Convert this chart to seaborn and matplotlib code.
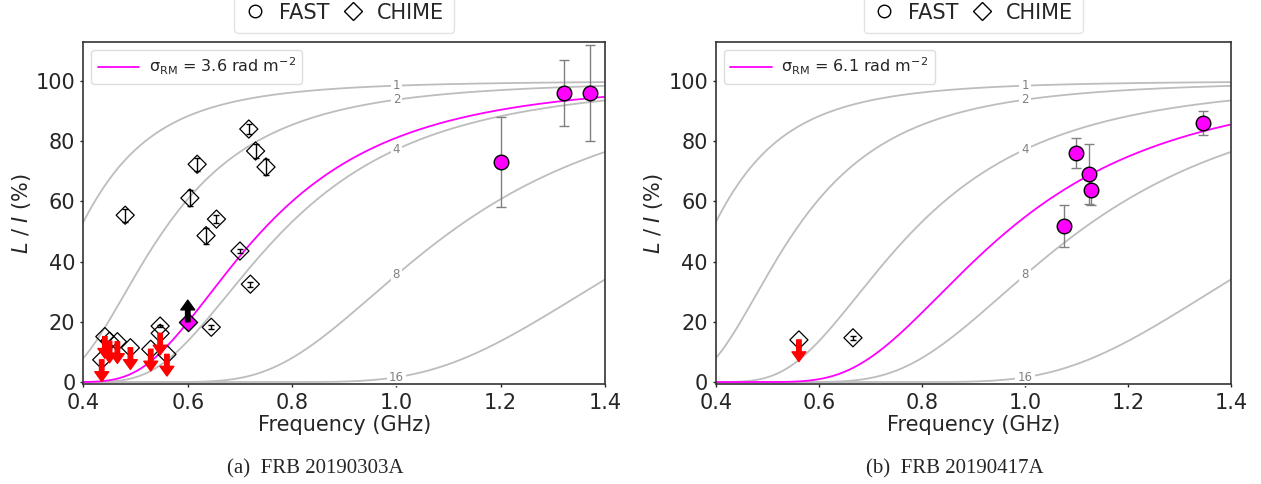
import numpy as np
import pandas as pd
import matplotlib
matplotlib.use("Agg")
import matplotlib.pyplot as plt
from matplotlib.lines import Line2D
import seaborn as sns

# model curves: sigma_RM values (rad m^-2)
sigma_grid = [1, 2, 4, 8, 16]
sigma_fit_a = 3.6
sigma_fit_b = 6.1

# FRB 20190303A, CHIME detections
chime_a_freq = [0.480, 0.547, 0.604, 0.618, 0.635, 0.655, 0.645, 0.700, 0.717, 0.730, 0.750, 0.720]
chime_a_lin = [55.4, 18.6, 61.1, 72.3, 48.6, 54.1, 18.2, 43.5, 84.0, 76.7, 71.4, 32.5]
chime_a_err = [2.2, 0.4, 2.8, 2.2, 2.6, 1.2, 0.6, 0.7, 1.7, 2.3, 2.7, 0.8]
# CHIME upper limits
chime_a_ul_freq = [0.435, 0.441, 0.450, 0.465, 0.490, 0.529, 0.547, 0.560]
chime_a_ul_lin = [7.4, 15.1, 13.6, 13.4, 11.4, 10.9, 16.2, 9.2]
# lower limit
chime_a_ll_freq = [0.600]
chime_a_ll_lin = [20.0]
# FAST
fast_a_freq = [1.200, 1.321, 1.371]
fast_a_lin = [73.0, 96.0, 96.0]
fast_a_err = [15.0, 11.0, 16.0]

# FRB 20190417A
chime_b_freq = [0.666]
chime_b_lin = [14.7]
chime_b_err = [0.6]
chime_b_ul_freq = [0.561]
chime_b_ul_lin = [14.0]
fast_b_freq = [1.076, 1.100, 1.125, 1.128, 1.346]
fast_b_lin = [51.9, 75.9, 69.0, 63.9, 85.9]
fast_b_err = [7.0, 5.0, 10.0, 5.0, 4.0]

titles = ["(a)  FRB 20190303A", "(b)  FRB 20190417A"]

sns.set_style("ticks")
plt.rcParams["font.family"] = ["DejaVu Sans"]
plt.rcParams["mathtext.fontset"] = "dejavusans"

C = 0.299792458  # m GHz


def depol(freq, sig):
    lam = C / freq
    return 100 * np.exp(-2 * sig**2 * lam**4)


def drawPanel(ax, sig_fit, ch_f, ch_l, ch_e, ul_f, ul_l, ll_f, ll_l, fa_f, fa_l, fa_e):
    freq = np.linspace(0.4, 1.4, 600)
    curves = pd.DataFrame({
        "freq": np.tile(freq, len(sigma_grid)),
        "lin": np.concatenate([depol(freq, s) for s in sigma_grid]),
        "sigma": np.repeat(sigma_grid, len(freq)),
    })
    sns.lineplot(data=curves, x="freq", y="lin", units="sigma", estimator=None,
                 color="#bdbdbd", lw=1.3, ax=ax, zorder=1)
    sns.lineplot(x=freq, y=depol(freq, sig_fit), color="magenta", lw=1.3, ax=ax,
                 label=r"σ$_{\rm RM}$ = %.1f rad m$^{-2}$" % sig_fit, zorder=2)

    # FAST points
    ax.errorbar(fa_f, fa_l, yerr=fa_e, fmt="none", ecolor="grey", elinewidth=1,
                capsize=3.5, zorder=3)
    sns.scatterplot(x=fa_f, y=fa_l, marker="o", s=110, color="magenta",
                    edgecolor="black", linewidth=1, ax=ax, zorder=5)

    # CHIME points
    ax.errorbar(ch_f, ch_l, yerr=ch_e, fmt="none", ecolor="black", elinewidth=1,
                capsize=2.5, zorder=3)
    sns.scatterplot(x=ch_f + ul_f, y=ch_l + ul_l, marker="D", s=85, facecolor="none",
                    edgecolor="black", linewidth=0.9, ax=ax, zorder=4)
    for f, l in zip(ul_f, ul_l):
        ax.annotate("", xy=(f, l - 7.2), xytext=(f, l),
                    arrowprops=dict(facecolor="red", edgecolor="red", width=3.2,
                                    headwidth=10, headlength=7, shrink=0), zorder=6)
    if ll_f:
        sns.scatterplot(x=ll_f, y=ll_l, marker="D", s=85, color="magenta",
                        edgecolor="black", linewidth=1, ax=ax, zorder=5)
        for f, l in zip(ll_f, ll_l):
            ax.annotate("", xy=(f, l + 7.2), xytext=(f, l),
                        arrowprops=dict(facecolor="black", edgecolor="black", width=3.2,
                                        headwidth=10, headlength=7, shrink=0), zorder=6)

    # inline labels of the grid curves
    for s in sigma_grid:
        ax.text(1.0, depol(1.0, s), str(s), fontsize=8.5, color="grey", ha="center",
                va="center", zorder=2.5,
                bbox=dict(facecolor="white", edgecolor="none", pad=1.5))

    ax.set_xlim(0.4, 1.4)
    ax.set_ylim(-0.8, 113)
    ax.set_xticks([0.4, 0.6, 0.8, 1.0, 1.2, 1.4])
    ax.set_yticks([0, 20, 40, 60, 80, 100])
    ax.tick_params(labelsize=15, length=2.3, width=1)
    ax.set_xlabel("Frequency (GHz)", fontsize=15, labelpad=2)
    ax.set_ylabel(r"$L$ / $I$ (%)", fontsize=15, labelpad=2)
    for sp in ax.spines.values():
        sp.set_color("#333333")
        sp.set_linewidth(1.2)

    leg = ax.legend(loc="upper left", fontsize=11.5, handlelength=2.6,
                    handletextpad=0.6, borderaxespad=0.5, framealpha=1)
    leg.get_frame().set_edgecolor("#dddddd")
    ax.add_artist(leg)

    handles = [
        Line2D([], [], ls="none", marker="o", ms=9, mfc="none", mec="black", label="FAST"),
        Line2D([], [], ls="none", marker="D", ms=9, mfc="none", mec="black", label="CHIME"),
    ]
    top = ax.legend(handles=handles, loc="lower center", bbox_to_anchor=(0.5, 1.025),
                    ncol=2, fontsize=15, frameon=True, handletextpad=0.65,
                    columnspacing=0.6, handlelength=1.0, borderaxespad=0,
                    borderpad=0.5)
    top.get_frame().set_edgecolor("#dddddd")


fig = plt.figure(figsize=(12.61, 4.84), dpi=100)
ax1 = fig.add_axes([0.0662, 0.2056, 0.4136, 0.7083])
ax2 = fig.add_axes([0.5678, 0.2056, 0.4084, 0.7083])

drawPanel(ax1, sigma_fit_a, chime_a_freq, chime_a_lin, chime_a_err,
          chime_a_ul_freq, chime_a_ul_lin, chime_a_ll_freq, chime_a_ll_lin,
          fast_a_freq, fast_a_lin, fast_a_err)
drawPanel(ax2, sigma_fit_b, chime_b_freq, chime_b_lin, chime_b_err,
          chime_b_ul_freq, chime_b_ul_lin, [], [],
          fast_b_freq, fast_b_lin, fast_b_err)

fig.text(0.250, 0.022, titles[0], fontsize=15, family="Liberation Serif", ha="center")
fig.text(0.757, 0.022, titles[1], fontsize=15, family="Liberation Serif", ha="center")

fig.savefig("out.png", dpi=100)
